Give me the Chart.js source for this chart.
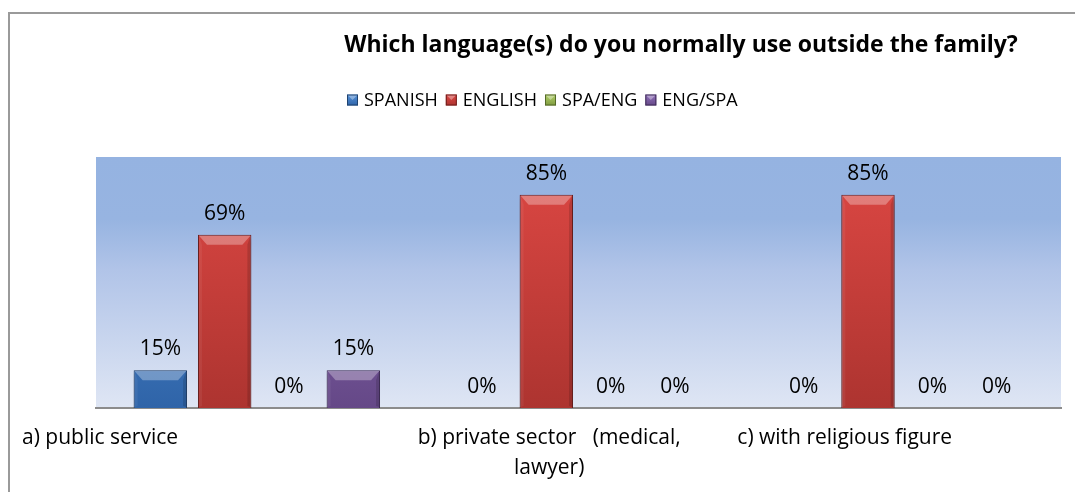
<!DOCTYPE html>
<html>
<head>
<meta charset="utf-8">
<script src="https://cdn.jsdelivr.net/npm/chart.js@4/dist/chart.umd.min.js"></script>
<style>
  html, body { margin: 0; padding: 0; background: #fff; }
  #wrap { width: 1075px; height: 492px; position: relative; }
</style>
</head>
<body>
<div id="wrap"><canvas id="langChart" width="1075" height="492"></canvas></div>
<script>
// categories (each one split into its printed lines)
const categories = [
    ['a) public service'],
    ['b) private sector   (medical,', 'lawyer)'],
    ['c) with religious figure']
];
const seriesNames = ['SPANISH', 'ENGLISH', 'SPA/ENG', 'ENG/SPA'];
const spanish = [15, 0, 0];
const english = [69, 85, 85];
const spaEng = [0, 0, 0];
const engSpa = [15, 0, 0];

const chartTitle = 'Which language(s) do you normally use outside the family?';
const FONT = '"Open Sans", "Noto Sans", sans-serif';

// light / dark ends of each bar colour
const palette = [
    { top: '#5692da', bottom: '#2f64a8', edge: '#1f426f' },
    { top: '#de4844', bottom: '#ad3430', edge: '#6e1d1b' },
    { top: '#b2d06a', bottom: '#7f9b3f', edge: '#55692a' },
    { top: '#9272bd', bottom: '#654887', edge: '#3f2c57' }
];

function barGradient(ctx, c) {
    const area = ctx.chart.chartArea;
    if (!area) return c.top;
    const g = ctx.chart.ctx.createLinearGradient(0, area.top, 0, area.bottom);
    g.addColorStop(0, c.top);
    g.addColorStop(1, c.bottom);
    return g;
}

// plot background, bar shadows, bevels, value labels, title, legend, category labels
const decor = {
    id: 'decor',
    beforeDraw(chart) {
        const { ctx, chartArea: a } = chart;
        ctx.save();
        ctx.fillStyle = '#fff';
        ctx.fillRect(0, 0, chart.width, chart.height);
        // outer frame
        ctx.strokeStyle = '#9a9a9a';
        ctx.lineWidth = 2;
        ctx.beginPath();
        ctx.moveTo(9, chart.height);
        ctx.lineTo(9, 13);
        ctx.lineTo(chart.width, 13);
        ctx.stroke();
        // plot area gradient
        const g = ctx.createLinearGradient(0, a.top, 0, a.bottom);
        g.addColorStop(0, '#95b3e1');
        g.addColorStop(0.25, '#97b4e1');
        g.addColorStop(0.45, '#b1c4e8');
        g.addColorStop(1, '#dfe6f4');
        ctx.fillStyle = g;
        ctx.fillRect(a.left, a.top, a.right - a.left, a.bottom - a.top);
        ctx.restore();
    },
    beforeDatasetDraw(chart) {
        const ctx = chart.ctx;
        ctx.save();
        ctx.shadowColor = 'rgba(0,0,0,0.35)';
        ctx.shadowBlur = 5;
        ctx.shadowOffsetY = 3;
    },
    afterDatasetDraw(chart) {
        chart.ctx.restore();
    },
    afterDatasetsDraw(chart) {
        const ctx = chart.ctx;
        ctx.save();
        chart.data.datasets.forEach((ds, di) => {
            const meta = chart.getDatasetMeta(di);
            meta.data.forEach((bar, i) => {
                const p = bar.getProps(['x', 'y', 'base', 'width'], true);
                const x0 = p.x - p.width / 2, x1 = p.x + p.width / 2;
                const h = p.base - p.y;
                if (h > 2) {
                    const b = Math.min(10, h / 2);
                    const s = 4;
                    // top bevel
                    ctx.fillStyle = 'rgba(255,255,255,0.3)';
                    ctx.beginPath();
                    ctx.moveTo(x0 + 1, p.y + 1);
                    ctx.lineTo(x1 - 1, p.y + 1);
                    ctx.lineTo(x1 - s - 5, p.y + b);
                    ctx.lineTo(x0 + s + 5, p.y + b);
                    ctx.closePath();
                    ctx.fill();
                    // left strip
                    ctx.fillStyle = 'rgba(255,255,255,0.06)';
                    ctx.beginPath();
                    ctx.moveTo(x0 + 1, p.y + 1);
                    ctx.lineTo(x0 + s, p.y + b);
                    ctx.lineTo(x0 + s, p.base - 2);
                    ctx.lineTo(x0 + 1, p.base - 1);
                    ctx.closePath();
                    ctx.fill();
                    // right strip
                    ctx.fillStyle = 'rgba(0,0,0,0.14)';
                    ctx.beginPath();
                    ctx.moveTo(x1 - 1, p.y + 1);
                    ctx.lineTo(x1 - s, p.y + b);
                    ctx.lineTo(x1 - s, p.base - 2);
                    ctx.lineTo(x1 - 1, p.base - 1);
                    ctx.closePath();
                    ctx.fill();
                }
                // value label
                ctx.fillStyle = '#000';
                ctx.font = '21px ' + FONT;
                ctx.textAlign = 'center';
                ctx.textBaseline = 'middle';
                ctx.fillText(ds.data[i] + '%', p.x, p.y - 21);
            });
        });
        ctx.restore();
    },
    afterDraw(chart, args, opts) {
        const ctx = chart.ctx;
        const area = chart.chartArea;
        ctx.save();
        ctx.fillStyle = '#000';
        // title
        ctx.font = 'bold 23px ' + FONT;
        ctx.textAlign = 'center';
        ctx.textBaseline = 'middle';
        ctx.fillText(chartTitle, opts.titleX, opts.titleY);

        // legend: marker, gap, name, gap to next marker
        ctx.font = '18px ' + FONT;
        ctx.textAlign = 'left';
        let lx = opts.legendX;
        const ly = opts.legendY;
        const m = 11;
        chart.data.datasets.forEach((ds, di) => {
            const c = palette[di];
            const top = ly - m / 2;
            const g = ctx.createLinearGradient(0, top, 0, top + m);
            g.addColorStop(0, c.top);
            g.addColorStop(1, c.bottom);
            ctx.fillStyle = g;
            ctx.fillRect(lx, top, m, m);
            ctx.fillStyle = 'rgba(255,255,255,0.35)';
            ctx.beginPath();
            ctx.moveTo(lx, top);
            ctx.lineTo(lx + m, top);
            ctx.lineTo(lx + m / 2, ly);
            ctx.closePath();
            ctx.fill();
            ctx.strokeStyle = c.edge;
            ctx.lineWidth = 1;
            ctx.strokeRect(lx + 0.5, top + 0.5, m - 1, m - 1);
            ctx.fillStyle = '#000';
            ctx.fillText(ds.label, lx + m + 6, ly + 1);
            lx += m + 6 + ctx.measureText(ds.label).width + 8;
        });

        // category labels, each block starts near its category's left edge
        ctx.font = '21px ' + FONT;
        const step = (area.right - area.left) / categories.length;
        categories.forEach((lines, i) => {
            const left = area.left + step * i + opts.labelShift[i];
            const w = Math.max(...lines.map(t => ctx.measureText(t).width));
            ctx.textAlign = 'center';
            lines.forEach((t, k) => {
                ctx.fillText(t, left + w / 2, area.bottom + 30 + k * 30);
            });
        });
        ctx.restore();
    }
};

const datasets = [spanish, english, spaEng, engSpa].map((vals, di) => ({
    label: seriesNames[di],
    data: vals,
    backgroundColor: ctx => barGradient(ctx, palette[di]),
    borderColor: palette[di].edge,
    borderWidth: 1,
    categoryPercentage: 0.8,
    barPercentage: 0.83
}));

new Chart(document.getElementById('langChart'), {
    type: 'bar',
    data: {
        labels: categories.map(l => l.join(' ')),
        datasets: datasets
    },
    options: {
        responsive: false,
        animation: false,
        layout: { padding: { left: 96, right: 14, top: 157, bottom: 76 } },
        scales: {
            x: {
                grid: { display: false },
                ticks: { display: false },
                border: { color: '#8c8c8c', width: 2 }
            },
            y: { display: false, min: 0, max: 100 }
        },
        plugins: {
            legend: { display: false },
            title: { display: false },
            tooltip: { enabled: false },
            decor: { titleX: 681, titleY: 45, legendX: 347, legendY: 100, labelShift: [-74, 0, -2] }
        }
    },
    plugins: [decor]
});
</script>
</body>
</html>
